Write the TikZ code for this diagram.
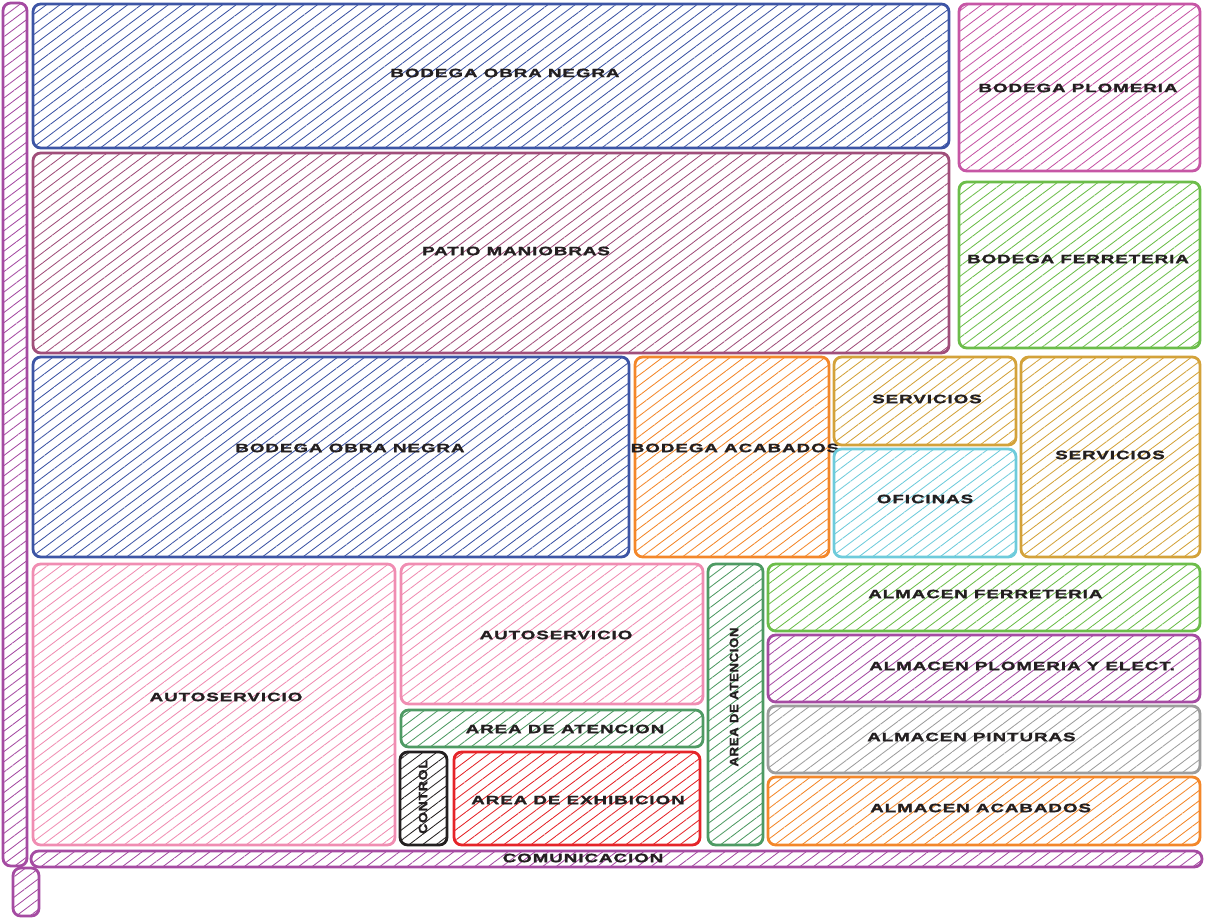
\documentclass[tikz,border=0pt]{standalone}
\usepackage{fontspec}
\usepackage{xcolor}
\newfontfamily\planfont[FakeStretch=1.55,LetterSpace=8,FakeBold=1.5]{Liberation Sans}
\usetikzlibrary{patterns.meta}
\definecolor{obraBlue}{RGB}{61, 85, 165}
\definecolor{patioMauve}{RGB}{160, 78, 122}
\definecolor{plomeriaPink}{RGB}{198, 86, 165}
\definecolor{ferreGreen}{RGB}{108, 189, 74}
\definecolor{acabadoOrange}{RGB}{243, 135, 42}
\definecolor{servGold}{RGB}{211, 162, 58}
\definecolor{oficinaCyan}{RGB}{110, 203, 219}
\definecolor{autoPink}{RGB}{240, 141, 178}
\definecolor{atencionGreen}{RGB}{78, 154, 99}
\definecolor{controlBlack}{RGB}{35, 31, 32}
\definecolor{exhibRed}{RGB}{229, 36, 41}
\definecolor{pinturaGray}{RGB}{157, 157, 157}
\definecolor{comunPurple}{RGB}{165, 75, 162}
\definecolor{labelGray}{RGB}{35, 31, 32}

\tikzset{
  zone/.style={draw=#1, line width=2pt, rounded corners=5.5pt,
    pattern={Lines[angle=37, distance=5.8pt, line width=0.6pt]}, pattern color=#1},
  tag/.style={font=\planfont\bfseries\fontsize{8.6}{9}\selectfont, text=labelGray, inner sep=0pt}
}

\begin{document}
\begin{tikzpicture}[x=0.025cm, y=-0.025cm]
  \useasboundingbox (0,0) rectangle (1205,918);
  % pasillos
  \draw[zone=comunPurple] (3,3) rectangle (27,866);
  \draw[zone=comunPurple] (13,868) rectangle (39,916);
  \draw[zone=comunPurple] (31,851) rectangle (1202,867);
  \node[tag] (comun) at (583,858) {COMUNICACION};
  % bodegas
  \draw[zone=obraBlue] (33,4) rectangle (949,148);
  \node[tag] (obraNegraA) at (505,73) {BODEGA OBRA NEGRA};
  \draw[zone=patioMauve] (33,153) rectangle (949,353);
  \node[tag] (patio) at (516,251) {PATIO MANIOBRAS};
  \draw[zone=plomeriaPink] (959,4) rectangle (1200,171);
  \node[tag] (bodPlomeria) at (1078,88) {BODEGA PLOMERIA};
  \draw[zone=ferreGreen] (959,182) rectangle (1200,348);
  \node[tag] (bodFerreteria) at (1078,259) {BODEGA FERRETERIA};
  \draw[zone=obraBlue] (33,357) rectangle (629,557);
  \node[tag] (obraNegraB) at (350,448) {BODEGA OBRA NEGRA};
  \draw[zone=acabadoOrange] (635,357) rectangle (829,557);
  \node[tag] (bodAcabados) at (735,448) {BODEGA ACABADOS};
  \draw[zone=servGold] (834,357) rectangle (1016,445);
  \node[tag] (servA) at (927,399) {SERVICIOS};
  \draw[zone=oficinaCyan] (834,449) rectangle (1016,557);
  \node[tag] (oficinas) at (925,499) {OFICINAS};
  \draw[zone=servGold] (1021,357) rectangle (1200,557);
  \node[tag] (servB) at (1110,455) {SERVICIOS};
  % autoservicio y atencion
  \draw[zone=autoPink] (33,564) rectangle (395,845);
  \node[tag] (autoA) at (226,697) {AUTOSERVICIO};
  \draw[zone=autoPink] (401,564) rectangle (703,704);
  \node[tag] (autoB) at (556,635) {AUTOSERVICIO};
  \draw[zone=atencionGreen] (401,710) rectangle (703,747);
  \node[tag] (atencionA) at (565,729) {AREA DE ATENCION};
  \draw[zone=controlBlack] (400,752) rectangle (447,845);
  \node[tag, rotate=90, xscale=0.75] (control) at (423,797) {CONTROL};
  \draw[zone=exhibRed] (454,752) rectangle (700,845);
  \node[tag] (exhib) at (578,800) {AREA DE EXHIBICION};
  \draw[zone=atencionGreen] (708,564) rectangle (763,845);
  \node[tag, rotate=90, xscale=0.7] (atencionB) at (734,697) {AREA DE ATENCION};
  % almacenes
  \draw[zone=ferreGreen] (768,564) rectangle (1200,631);
  \node[tag, anchor=west] (almFerreteria) at (868,594) {ALMACEN FERRETERIA};
  \draw[zone=comunPurple] (768,635) rectangle (1200,702);
  \node[tag, anchor=west] (almPlomeria) at (869,666) {ALMACEN PLOMERIA Y ELECT.};
  \draw[zone=pinturaGray] (768,706) rectangle (1200,773);
  \node[tag, anchor=west] (almPinturas) at (867,737) {ALMACEN PINTURAS};
  \draw[zone=acabadoOrange] (768,777) rectangle (1200,845);
  \node[tag, anchor=west] (almAcabados) at (870,808) {ALMACEN ACABADOS};
\end{tikzpicture}
\end{document}
